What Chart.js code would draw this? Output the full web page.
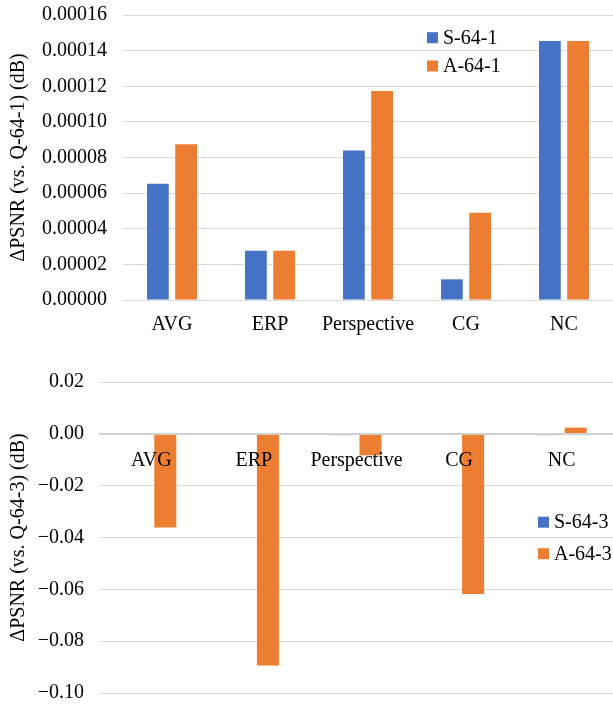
<!DOCTYPE html>
<html>
<head>
<meta charset="utf-8">
<script src="https://cdn.jsdelivr.net/npm/chart.js@4.4.0/dist/chart.umd.min.js"></script>
<style>
  html, body { margin: 0; padding: 0; background: #fff; }
  #wrap { position: relative; width: 613px; height: 708px; overflow: hidden; }
  .box { position: absolute; left: 0; width: 613px; }
  #topBox { top: 0; height: 340px; }
  #bottomBox { top: 340px; height: 368px; }
</style>
</head>
<body>
<div id="wrap">
  <div class="box" id="topBox"><canvas id="chartTop"></canvas></div>
  <div class="box" id="bottomBox"><canvas id="chartBottom"></canvas></div>
</div>
<script>
// Data
const categories = ['AVG', 'ERP', 'Perspective', 'CG', 'NC'];

// Top chart: vs. Q-64-1
const labelsTop = ['S-64-1', 'A-64-1'];
const s641 = [0.0000652, 0.0000276, 0.0000839, 0.0000116, 0.0001454];
const a641 = [0.0000875, 0.0000276, 0.0001174, 0.0000490, 0.0001454];
const yTopMin = 0, yTopMax = 0.00016, yTopStep = 0.00002;

// Bottom chart: vs. Q-64-3
const labelsBottom = ['S-64-3', 'A-64-3'];
const s643 = [0, 0, -0.0005, 0, -0.0005];
const a643 = [-0.0361, -0.0894, -0.0083, -0.0618, 0.0024];
const yBotMin = -0.10, yBotMax = 0.02, yBotStep = 0.02;

const BLUE = '#4472C4';
const ORANGE = '#ED7D31';
const GRID = '#d9d9d9';

Chart.defaults.font.family = '"Liberation Serif", "Times New Roman", serif';
Chart.defaults.font.size = 20;
Chart.defaults.color = '#000';

// Legend drawn inside the plot area (Excel style)
const insideLegend = {
    id: 'insideLegend',
    afterDraw(chart, args, opts) {
        const ctx = chart.ctx;
        ctx.save();
        ctx.font = '20px "Liberation Serif", "Times New Roman", serif';
        ctx.textBaseline = 'middle';
        ctx.textAlign = 'left';
        chart.data.datasets.forEach((ds, i) => {
            const cy = opts.y + i * opts.gap;
            ctx.fillStyle = ds.backgroundColor;
            ctx.fillRect(opts.x, cy - 5.5, 11, 11);
            ctx.fillStyle = '#000';
            ctx.fillText(ds.label, opts.x + 16, cy + 1);
        });
        ctx.restore();
    }
};

function yTitle(text) {
    return { display: true, text: text, color: '#000', font: { size: 20 }, padding: { top: 7, bottom: 0 } };
}

// y grid: invisible tick marks give the gap between labels and plot
const yGrid = { color: GRID, drawTicks: true, tickLength: 16, tickColor: 'rgba(0,0,0,0)' };

// Top chart
new Chart(document.getElementById('chartTop'), {
    type: 'bar',
    data: {
        labels: categories,
        datasets: [
            { label: labelsTop[0], data: s641, backgroundColor: BLUE },
            { label: labelsTop[1], data: a641, backgroundColor: ORANGE }
        ]
    },
    options: {
        responsive: true,
        maintainAspectRatio: false,
        animation: false,
        datasets: { bar: { categoryPercentage: 0.576, barPercentage: 0.77 } },
        layout: { padding: { top: 15, right: 0, left: 0, bottom: 0 } },
        plugins: {
            legend: { display: false },
            tooltip: { enabled: false },
            insideLegend: { x: 427, y: 37.7, gap: 28.3 }
        },
        scales: {
            x: {
                grid: { display: false },
                border: { display: true, color: GRID, width: 1 },
                ticks: { padding: 5, color: '#000', maxRotation: 0, minRotation: 0, autoSkip: false },
                afterFit(scale) { scale.height = 40; }
            },
            y: {
                min: yTopMin,
                max: yTopMax,
                ticks: {
                    stepSize: yTopStep,
                    padding: 0,
                    color: '#000',
                    callback: v => v.toFixed(5)
                },
                grid: yGrid,
                border: { display: false },
                title: yTitle('\u0394PSNR (vs. Q-64-1) (dB)'),
                afterFit(scale) { scale.width = 123; }
            }
        }
    },
    plugins: [insideLegend]
});

// Bottom chart
new Chart(document.getElementById('chartBottom'), {
    type: 'bar',
    data: {
        labels: categories,
        datasets: [
            { label: labelsBottom[0], data: s643, backgroundColor: BLUE },
            { label: labelsBottom[1], data: a643, backgroundColor: ORANGE }
        ]
    },
    options: {
        responsive: true,
        maintainAspectRatio: false,
        animation: false,
        datasets: { bar: { categoryPercentage: 0.546, barPercentage: 0.786 } },
        layout: { padding: { top: 42, right: 0, left: 0, bottom: 15 } },
        plugins: {
            legend: { display: false },
            tooltip: { enabled: false },
            insideLegend: { x: 538, y: 182.2, gap: 31.5 }
        },
        scales: {
            x: {
                position: { y: 0 },
                grid: { display: false },
                border: { display: true, color: '#d0d0d0', width: 2, z: 1 },
                ticks: { padding: 7, color: '#000', z: 1, maxRotation: 0, minRotation: 0, autoSkip: false }
            },
            y: {
                min: yBotMin,
                max: yBotMax,
                ticks: {
                    stepSize: yBotStep,
                    padding: 0,
                    color: '#000',
                    callback: v => {
                        const r = Math.round(v * 100) / 100;
                        return (r < 0 ? '\u2212' : '') + Math.abs(r).toFixed(2);
                    }
                },
                grid: yGrid,
                border: { display: false },
                title: yTitle('\u0394PSNR (vs. Q-64-3) (dB)'),
                afterFit(scale) { scale.width = 100; }
            }
        }
    },
    plugins: [insideLegend]
});
</script>
</body>
</html>
